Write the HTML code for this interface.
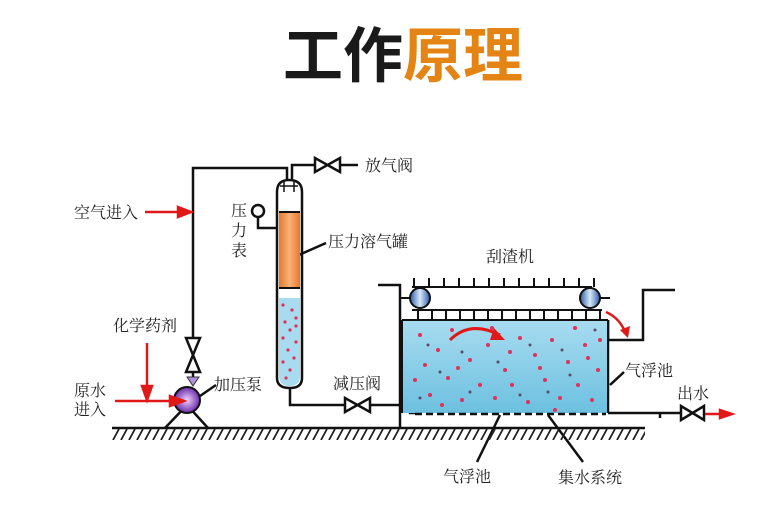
<!DOCTYPE html>
<html><head><meta charset="utf-8"><style>
html,body{margin:0;padding:0;background:#fff;}
svg{display:block;}
text{font-family:"Liberation Serif","Noto Serif CJK SC","Noto Sans CJK SC",serif;font-size:16px;fill:#222;}
.t{font-family:"Liberation Sans","Noto Sans CJK SC",sans-serif;font-weight:bold;font-size:60px;}
</style></head><body>
<svg width="778" height="506" viewBox="0 0 778 506" xmlns="http://www.w3.org/2000/svg">
<defs>
<linearGradient id="w" x1="0" y1="0" x2="0" y2="1"><stop offset="0" stop-color="#a8dcf0"/><stop offset="1" stop-color="#6cc0e0"/></linearGradient>
<linearGradient id="o" x1="0" y1="0" x2="1" y2="0"><stop offset="0" stop-color="#e8782a"/><stop offset="0.5" stop-color="#f9b37a"/><stop offset="1" stop-color="#e8782a"/></linearGradient>
<linearGradient id="r" x1="0" y1="0" x2="1" y2="0"><stop offset="0" stop-color="#2a5aa8"/><stop offset="0.5" stop-color="#d8eaf8"/><stop offset="1" stop-color="#2a5aa8"/></linearGradient>
<radialGradient id="p"><stop offset="0" stop-color="#f0d0ff"/><stop offset="1" stop-color="#6a2aa8"/></radialGradient>
<pattern id="h" x="0" y="429" width="8" height="11" patternUnits="userSpaceOnUse"><line x1="7" y1="0" x2="1" y2="11" stroke="#222" stroke-width="1.8"/></pattern>
</defs>
<text class="t" x="283" y="77"><tspan style="fill:#1a1a1a">工作</tspan><tspan style="fill:#e38414">原理</tspan></text>

<g stroke="#111" stroke-width="2.5" fill="none">
<line x1="112" y1="428" x2="645" y2="428"/>
<polyline points="193,338 193,168 287,168 287,180"/>
<polyline points="292,180 292,165 315,165"/>
<line x1="340" y1="165" x2="358" y2="165"/>
<path d="M277,192 Q277,180 289,180 Q302,180 302,192 L302,378 Q302,388 290,388 Q277,388 277,378 Z" fill="#fff"/>
<circle cx="258" cy="211" r="6" fill="#fff"/>
<polyline points="258,217 258,228 277,228"/>
<polyline points="290,388 290,405 345,405"/>
<polyline points="370,405 410,405 410,413 415,413"/>
<polyline points="378,285 400,285 400,428"/>
<polyline points="608,320 608,340 643,340 643,290 675,290"/>
<line x1="608" y1="320" x2="608" y2="413"/>
<line x1="608" y1="413" x2="680" y2="413"/>
<line x1="660" y1="413" x2="660" y2="418"/>
<line x1="292" y1="258" x2="326" y2="243"/>
<line x1="200" y1="396" x2="216" y2="385"/>
<line x1="610" y1="385" x2="624" y2="372"/>
<line x1="500" y1="415" x2="477" y2="462"/>
<line x1="548" y1="415" x2="583" y2="462"/>
</g>
<rect x="112" y="429" width="533" height="11" fill="url(#h)"/>
<rect x="279" y="212" width="21" height="76" fill="url(#o)"/>
<line x1="279" y1="212" x2="300" y2="212" stroke="#111" stroke-width="2"/>
<line x1="279" y1="288" x2="300" y2="288" stroke="#111" stroke-width="2"/>
<path d="M279,298 L300,298 L300,376 Q300,386 290,386 Q279,386 279,376 Z" fill="#a8daf0"/>
<path d="M280,186 L298,186 M284,180 L284,192 M294,180 L294,192" stroke="#111" stroke-width="1.5"/>
<g fill="#e0305a">
<circle cx="283" cy="305" r="1.6"/><circle cx="292" cy="310" r="1.6"/><circle cx="296" cy="318" r="1.6"/><circle cx="285" cy="322" r="1.6"/><circle cx="290" cy="330" r="1.6"/><circle cx="283" cy="338" r="1.6"/><circle cx="296" cy="342" r="1.6"/><circle cx="288" cy="350" r="1.6"/><circle cx="294" cy="358" r="1.6"/><circle cx="283" cy="362" r="1.6"/><circle cx="290" cy="370" r="1.6"/><circle cx="286" cy="378" r="1.6"/><circle cx="296" cy="326" r="1.6"/>
</g>
<g fill="#fff" stroke="#111" stroke-width="2.5">
<path d="M315,158 L315,172 L340,158 L340,172 Z"/>
<path d="M345,398 L345,412 L370,398 L370,412 Z"/>
<path d="M681,406 L681,420 L704,406 L704,420 Z"/>
<path d="M186,338 L200,338 L186,372 L200,372 Z"/>
</g>
<line x1="193" y1="372" x2="193" y2="378" stroke="#111" stroke-width="2.5"/>
<path d="M187,377 L199,377 L193,386 Z" fill="#b090e0" stroke="#333" stroke-width="1"/>
<polyline points="165,428 187,405 208,428" fill="none" stroke="#111" stroke-width="2.5"/>
<circle cx="187" cy="400" r="13" fill="url(#p)" stroke="#111" stroke-width="2"/>
<g stroke="#e01818" stroke-width="2.5" fill="#e01818">
<line x1="145" y1="212" x2="180" y2="212"/><path d="M178,207 L191,212 L178,217 Z"/>
<line x1="147" y1="343" x2="147" y2="388"/><path d="M142,386 L147,400 L152,386 Z"/>
<line x1="115" y1="401" x2="172" y2="401"/><path d="M170,396 L184,401 L170,406 Z"/>
<line x1="705" y1="414" x2="722" y2="414"/><path d="M720,410 L732,414 L720,418 Z"/>
</g>
<rect x="402" y="320" width="205" height="93" fill="url(#w)"/>
<line x1="402" y1="320" x2="402" y2="413" stroke="#111" stroke-width="2"/>
<line x1="402" y1="320" x2="608" y2="320" stroke="#111" stroke-width="2"/>
<line x1="415" y1="414" x2="606" y2="414" stroke="#111" stroke-width="2.5" stroke-dasharray="7,4"/>
<g fill="#e0305a">
<circle cx="420" cy="335" r="2"/><circle cx="438" cy="350" r="2"/><circle cx="452" cy="330" r="2"/><circle cx="470" cy="360" r="2"/><circle cx="488" cy="345" r="2"/><circle cx="505" cy="370" r="2"/><circle cx="520" cy="338" r="2"/><circle cx="535" cy="355" r="2"/><circle cx="552" cy="340" r="2"/><circle cx="568" cy="362" r="2"/><circle cx="585" cy="345" r="2"/><circle cx="598" cy="370" r="2"/>
<circle cx="415" cy="380" r="2"/><circle cx="430" cy="395" r="2"/><circle cx="448" cy="378" r="2"/><circle cx="462" cy="400" r="2"/><circle cx="480" cy="385" r="2"/><circle cx="495" cy="398" r="2"/><circle cx="512" cy="385" r="2"/><circle cx="528" cy="402" r="2"/><circle cx="545" cy="380" r="2"/><circle cx="560" cy="398" r="2"/><circle cx="578" cy="385" r="2"/><circle cx="592" cy="400" r="2"/>
<circle cx="425" cy="365" r="2"/><circle cx="458" cy="368" r="2"/><circle cx="492" cy="328" r="2"/><circle cx="540" cy="368" r="2"/><circle cx="575" cy="328" r="2"/><circle cx="600" cy="340" r="2"/><circle cx="510" cy="352" r="2"/><circle cx="442" cy="405" r="2"/><circle cx="555" cy="410" r="2"/><circle cx="588" cy="358" r="2"/>
</g>
<g fill="#5a4a6a">
<circle cx="428" cy="345" r="1.5"/><circle cx="462" cy="352" r="1.5"/><circle cx="498" cy="362" r="1.5"/><circle cx="530" cy="345" r="1.5"/><circle cx="562" cy="350" r="1.5"/><circle cx="595" cy="330" r="1.5"/><circle cx="420" cy="398" r="1.5"/><circle cx="470" cy="392" r="1.5"/><circle cx="520" cy="395" r="1.5"/><circle cx="570" cy="375" r="1.5"/><circle cx="440" cy="372" r="1.5"/><circle cx="548" cy="392" r="1.5"/>
</g>
<path d="M450,340 Q470,320 500,335" fill="none" stroke="#e01818" stroke-width="3"/>
<path d="M494,328 L505,340 L490,340 Z" fill="#e01818"/>
<path d="M606,312 Q620,318 626,334" fill="none" stroke="#e01818" stroke-width="2.5"/>
<path d="M620,330 L628,338 L630,326 Z" fill="#e01818"/>
<g stroke="#111" stroke-width="2" fill="none">
<line x1="412" y1="287" x2="592" y2="287"/>
<line x1="412" y1="310" x2="602" y2="310"/>
<path d="M414,278v9M429,278v9M444,278v9M459,278v9M474,278v9M489,278v9M504,278v9M519,278v9M534,278v9M549,278v9M564,278v9M579,278v9M594,278v9"/>
<path d="M418,310v10M432,310v10M446,310v10M460,310v10M474,310v10M488,310v10M502,310v10M516,310v10M530,310v10M544,310v10M558,310v10M572,310v10M586,310v10M600,310v10"/>
<line x1="400" y1="298" x2="410" y2="298"/><line x1="600" y1="298" x2="610" y2="298"/>
</g>
<circle cx="420" cy="298" r="10" fill="url(#r)" stroke="#111" stroke-width="2"/>
<circle cx="590" cy="298" r="10" fill="url(#r)" stroke="#111" stroke-width="2"/>
<text x="365" y="171">放气阀</text>
<text x="74" y="218">空气进入</text>
<text x="231" y="216">压</text><text x="231" y="236">力</text><text x="231" y="256">表</text>
<text x="328" y="247">压力溶气罐</text>
<text x="113" y="331">化学药剂</text>
<text x="74" y="396">原水</text><text x="74" y="415">进入</text>
<text x="214" y="390">加压泵</text>
<text x="333" y="389">减压阀</text>
<text x="486" y="262">刮渣机</text>
<text x="625" y="376">气浮池</text>
<text x="677" y="399">出水</text>
<text x="443" y="482">气浮池</text>
<text x="558" y="483">集水系统</text>
</svg>
</body></html>
